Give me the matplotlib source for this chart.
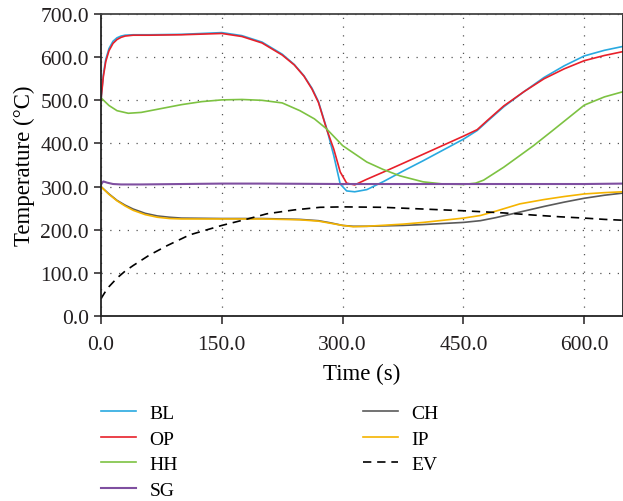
import matplotlib
matplotlib.use("Agg")
import matplotlib.pyplot as plt
from matplotlib.ticker import FormatStrFormatter

plt.rcParams['font.family'] = ['Liberation Serif', 'DejaVu Serif']
plt.rcParams['font.size'] = 15

t_bl = [0, 3, 6, 10, 15, 20, 25, 30, 40, 60, 100, 150, 175, 200, 225, 240, 252, 262, 270,
        280, 289, 297, 305, 315, 330, 351, 375, 400, 425, 450, 467, 480, 500, 525, 550,
        575, 600, 625, 648]
bl = [500, 560, 595, 620, 637, 645, 649, 651, 652, 652, 653, 657, 650, 635, 607, 583, 557, 528, 497,
      436, 372, 306, 290, 288, 293, 312, 336, 360, 385, 410, 430, 452, 485, 520, 553,
      580, 603, 616, 625]
op = [500, 555, 590, 615, 632, 641, 646, 649, 651, 651, 652, 655, 648, 633, 605, 582, 556, 526, 495,
      434, 387, 334, 308, 304, 317, 334, 354, 375, 396, 417, 432, 454, 487, 520, 550,
      573, 592, 604, 613]

t_hh = [0, 5, 10, 20, 34, 50, 75, 100, 125, 150, 175, 200, 225, 247, 265, 280, 300, 330,
        350, 371, 400, 425, 450, 465, 475, 490, 500, 520, 537, 560, 580, 600, 625, 648]
hh = [506, 497, 488, 476, 470, 472, 481, 490, 497, 501, 502, 500, 494, 476, 457, 434, 395, 357,
      340, 325, 311, 306, 305, 308, 315, 333, 345, 372, 395, 429, 459, 489, 508, 520]

t_sg = [0, 3, 8, 15, 25, 50, 100, 150, 200, 300, 400, 500, 600, 648]
sg = [305, 312, 309, 306, 305, 305, 306, 307, 307, 306, 306, 306, 306, 307]

t_ch = [0, 10, 20, 30, 40, 55, 70, 85, 100, 150, 200, 247, 270, 285, 300, 313, 330, 375,
        400, 450, 471, 490, 520, 550, 575, 600, 625, 648]
ch = [300, 283, 268, 257, 248, 238, 232, 229, 227, 226, 226, 224, 221, 216, 210, 208, 208, 210,
      212, 217, 221, 228, 241, 254, 264, 273, 280, 285]
ip = [300, 282, 267, 255, 245, 235, 229, 226, 225, 225, 225, 223, 220, 215, 210, 207, 208, 213,
      217, 227, 233, 243, 260, 270, 277, 283, 286, 288]

t_ev = [0, 5, 10, 20, 30, 40, 60, 82, 110, 150, 180, 206, 240, 272, 300, 350, 400, 450,
        500, 537, 570, 600, 625, 648]
ev = [40, 55, 68, 88, 104, 117, 141, 163, 188, 210, 224, 237, 246, 252, 253, 252, 248, 244,
      239, 234, 230, 227, 224, 222]

x_ticks = [0, 150, 300, 450, 600]
y_ticks = [0, 100, 200, 300, 400, 500, 600, 700]

fig = plt.figure(figsize=(6.23, 5.02), dpi=100)
ax = fig.add_axes([0.162, 0.3685, 0.838, 0.6015])

lw = 1.2
ax.plot(t_bl, bl, color='#29a9e0', lw=lw, label='BL')
ax.plot(t_bl, op, color='#e8202a', lw=lw, label='OP')
ax.plot(t_hh, hh, color='#7dc242', lw=lw, label='HH')
ax.plot(t_sg, sg, color='#7f4fa0', lw=1.5, label='SG')
ax.plot(t_ch, ch, color='#5a5a5a', lw=lw, label='CH')
ax.plot(t_ch, ip, color='#f5b400', lw=lw, label='IP')
ax.plot(t_ev, ev, color='black', lw=lw, ls=(0, (5, 3.5)), label='EV')

ax.set_xlim(0, 648)
ax.set_ylim(0, 700)
ax.set_xticks(x_ticks)
ax.set_yticks(y_ticks)
ax.xaxis.set_major_formatter(FormatStrFormatter('%.1f'))
ax.yaxis.set_major_formatter(FormatStrFormatter('%.1f'))
ax.grid(True, color='#555555', ls=(0, (1, 6)), lw=0.9)
ax.tick_params(direction='out', length=5, width=1.1, colors='#231f20', labelsize=15.5)
ax.tick_params(axis='x', length=6, pad=8)
for s in ax.spines.values():
    s.set_color('#222222')
    s.set_linewidth(1.3)
ax.spines['top'].set_color('#444444')

ax.set_xlabel('Time (s)', fontsize=16.5, labelpad=6)
ax.set_ylabel('Temperature (°C)', fontsize=16.5, labelpad=4)

handles, labels = ax.get_legend_handles_labels()
fig.legend(handles, labels, ncol=2, loc='upper left', bbox_to_anchor=(0.162, 0.193),
           frameon=False, fontsize=14, handlelength=1.8, handletextpad=0.7,
           labelspacing=0.42, columnspacing=9.5, borderpad=0, borderaxespad=0)

fig.savefig('out.png', dpi=100)
